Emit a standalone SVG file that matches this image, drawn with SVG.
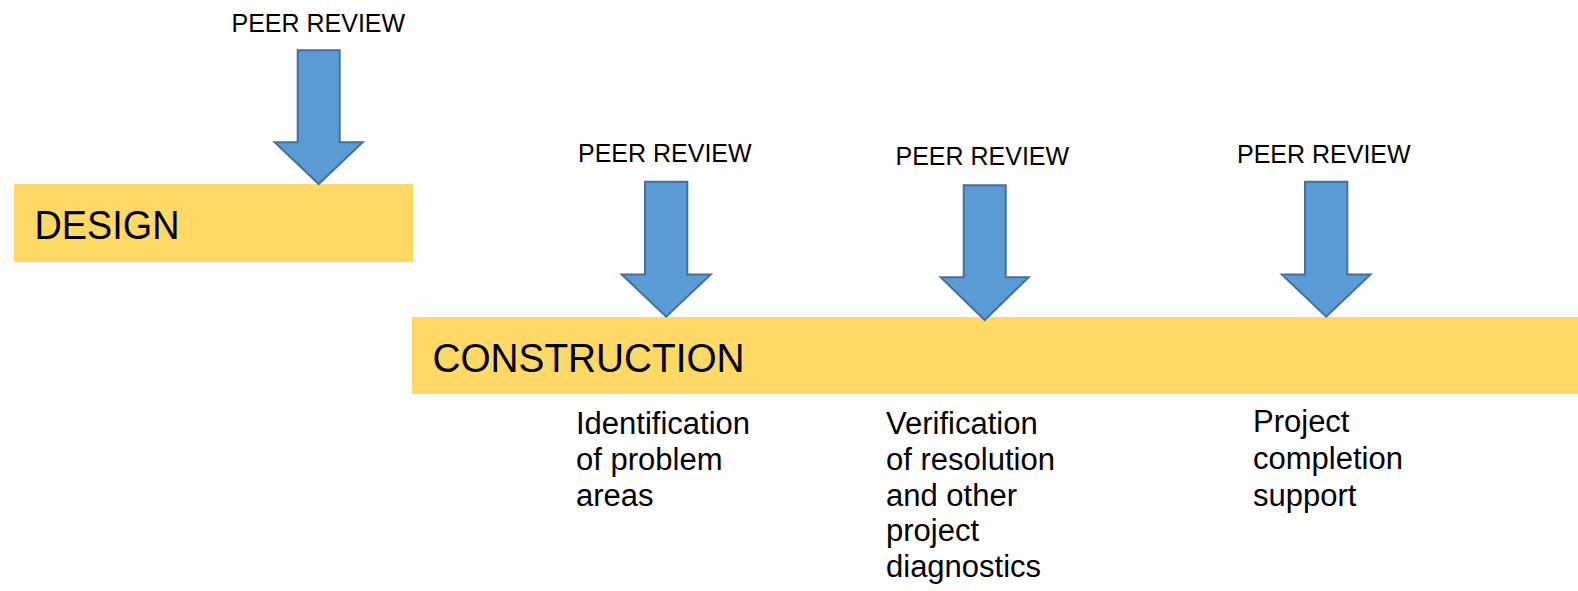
<svg xmlns="http://www.w3.org/2000/svg" width="1578" height="591" viewBox="0 0 1578 591">
<style>
.bar{fill:#FFD966;}
.arrow{fill:#5B9BD5;stroke:#41719C;stroke-width:2;stroke-linejoin:miter;}
.lbl{font-family:"Liberation Sans",Arial,sans-serif;font-size:25px;fill:#000;}
.phase{font-family:"Liberation Sans",Arial,sans-serif;font-size:40px;fill:#000;}
.note{font-family:"Liberation Sans",Arial,sans-serif;font-size:31px;fill:#000;}
</style>
<rect width="1578" height="591" fill="#fff"/>
<g id="design">
<rect class="bar" x="14" y="184" width="399" height="78"/>
<text class="phase" x="34.5" y="238.5" textLength="145" lengthAdjust="spacingAndGlyphs">DESIGN</text>
</g>
<g id="construction">
<rect class="bar" x="412" y="317" width="1166" height="77"/>
<text class="phase" x="432.5" y="371.7" textLength="312" lengthAdjust="spacingAndGlyphs">CONSTRUCTION</text>
</g>
<g id="connectors">
<path class="arrow" d="M297.7,50.3 L339.7,50.3 L339.7,142.2 L362.7,142.2 L318.7,184 L274.7,142.2 L297.7,142.2 Z"/>
<path class="arrow" d="M645,181.7 L687.3,181.7 L687.3,274.5 L710.7,274.5 L666.2,316.7 L621.7,274.5 L645,274.5 Z"/>
<path class="arrow" d="M963.7,185.3 L1005.7,185.3 L1005.7,277.2 L1028.7,277.2 L984.7,320 L940.7,277.2 L963.7,277.2 Z"/>
<path class="arrow" d="M1305,181.7 L1347.3,181.7 L1347.3,274.5 L1370.5,274.5 L1326.2,316.7 L1281.9,274.5 L1305,274.5 Z"/>
</g>
<g id="review1"><text class="lbl" x="231.5" y="31.7">PEER REVIEW</text></g>
<g id="review2"><text class="lbl" x="578" y="162.3">PEER REVIEW</text></g>
<g id="review3"><text class="lbl" x="895.5" y="165">PEER REVIEW</text></g>
<g id="review4"><text class="lbl" x="1237" y="163.3">PEER REVIEW</text></g>
<g id="note1">
<text class="note" x="576" y="434"><tspan x="576" y="434">Identification</tspan><tspan x="576" y="469.8">of problem</tspan><tspan x="576" y="505.6">areas</tspan></text>
</g>
<g id="note2">
<text class="note" x="886" y="434"><tspan x="886" y="434">Verification</tspan><tspan x="886" y="469.8">of resolution</tspan><tspan x="886" y="505.6">and other</tspan><tspan x="886" y="541.4">project</tspan><tspan x="886" y="577.2">diagnostics</tspan></text>
</g>
<g id="note3">
<text class="note" x="1253" y="432"><tspan x="1253" y="432">Project</tspan><tspan x="1253" y="469">completion</tspan><tspan x="1253" y="506">support</tspan></text>
</g>
</svg>
